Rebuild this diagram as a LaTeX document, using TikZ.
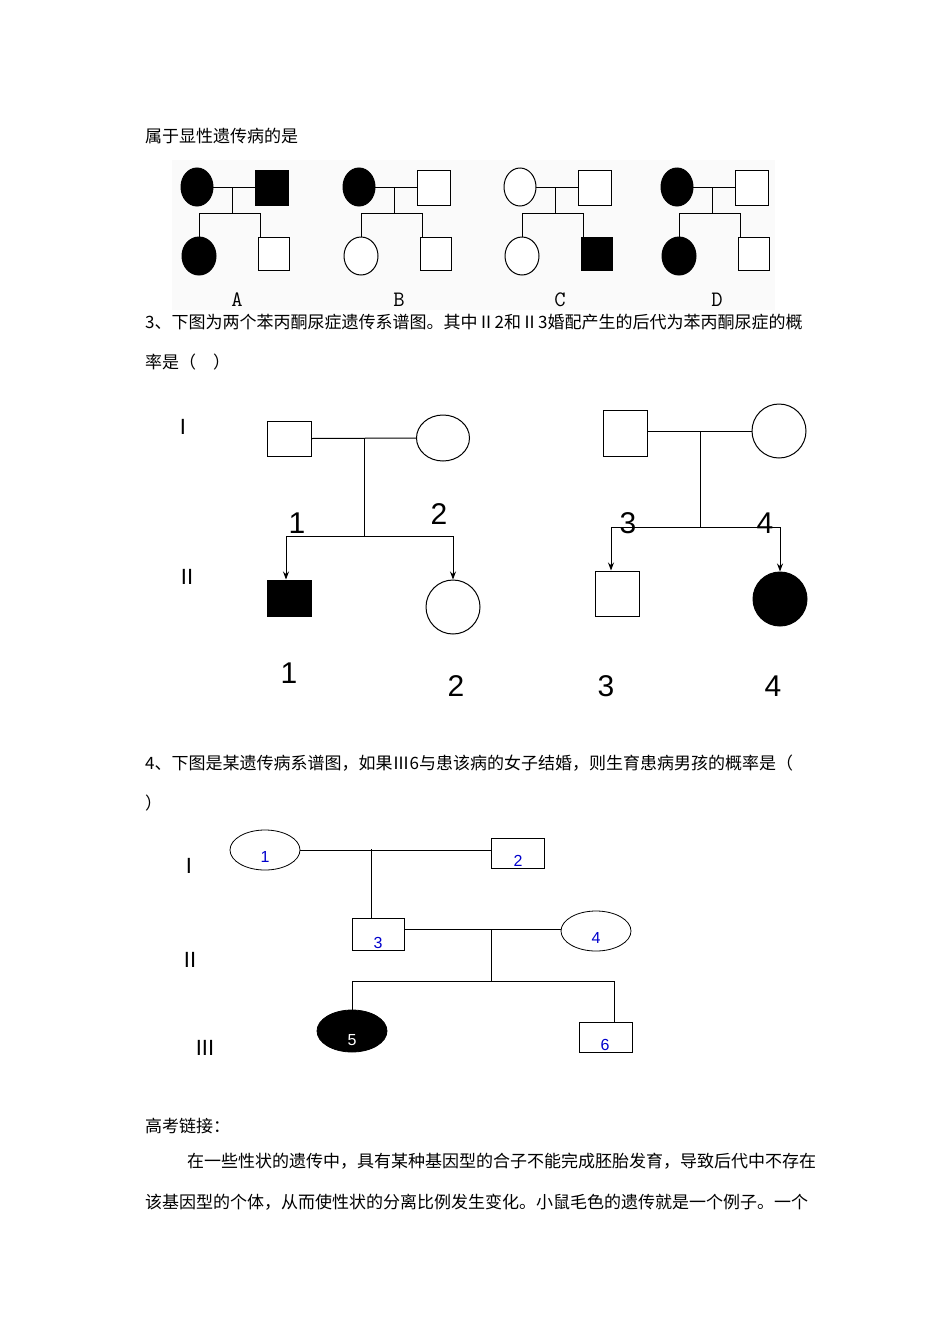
\documentclass[tikz,border=0pt]{standalone}
\usepackage{fontspec}
\setmainfont{Liberation Sans}
\newfontfamily\cjk{Noto Sans CJK SC}
\usetikzlibrary{arrows.meta,shapes.geometric}
\begin{document}
\begin{tikzpicture}[x=1pt,y=-1pt,
 ln/.style={draw=black,line width=1pt},
 sq/.style={draw=black,line width=1pt,rectangle},
 txt/.style={anchor=base west,inner sep=0pt,font=\cjk\fontsize{17}{17}\selectfont},
 bignum/.style={font=\fontsize{30}{30}\selectfont,inner sep=0pt},
 rom/.style={font=\fontsize{22}{22}\selectfont,inner sep=0pt},
 bl/.style={text=blue!80!black,font=\fontsize{16}{16}\selectfont,inner sep=0pt},
 arr/.style={ln,-{Stealth[length=8pt,width=6pt]}}]
\useasboundingbox (0,0) rectangle (950,1344);
\fill[white] (0,0) rectangle (950,1344);
% text
\node[txt] (t1) at (145,142) {属于显性遗传病的是};
\node[txt] (t2) at (145,328) {3、下图为两个苯丙酮尿症遗传系谱图。其中Ⅱ2和Ⅱ3婚配产生的后代为苯丙酮尿症的概};
\node[txt] (t3) at (145,368) {率是（　）};
\node[txt] (t4) at (145,769) {4、下图是某遗传病系谱图，如果Ⅲ6与患该病的女子结婚，则生育患病男孩的概率是（};
\node[txt] (t5) at (145,809) {）};
\node[txt] (t6) at (145,1132) {高考链接：};
\node[txt] (t7) at (187,1167) {在一些性状的遗传中，具有某种基因型的合子不能完成胚胎发育，导致后代中不存在};
\node[txt] (t8) at (145,1208) {该基因型的个体，从而使性状的分离比例发生变化。小鼠毛色的遗传就是一个例子。一个};
% figure 1
\fill[gray!4] (172,160) rectangle (775,310);
\foreach \dx/\lab/\fm/\ff/\cf/\cm in {0/A/black/black/black/white, 162/B/white/black/white/white, 323/C/white/white/white/black, 480/D/white/black/black/white}{
 \begin{scope}[xshift=\dx]
 \draw[ln] (213,187) -- (255,187);
 \draw[ln] (232,187) -- (232,213);
 \draw[ln] (199,213) -- (260,213);
 \draw[ln] (199,213) -- (199,237);
 \draw[ln] (260,213) -- (260,237);
 \filldraw[draw=black,fill=\ff,line width=1pt] (197,187) ellipse (16 and 19);
 \filldraw[draw=black,fill=\fm,line width=1pt] (255,170) rectangle (288,205);
 \filldraw[draw=black,fill=\cf,line width=1pt] (199,256) ellipse (17 and 19);
 \filldraw[draw=black,fill=\cm,line width=1pt] (258,237) rectangle (289,270);
 \node[font=\fontsize{22}{22}\selectfont\ttfamily,inner sep=0pt] at (237,300) {\lab};
 \end{scope}}
% figure 2
\node[rom] (r1) at (183,427) {I};
\node[rom] (r2) at (187,577) {II};
\node[sq,minimum width=44pt,minimum height=35pt,inner sep=0pt] (p1) at (289,438.5) {};
\node[draw,ellipse,line width=1pt,minimum width=53pt,minimum height=46pt,inner sep=0pt] (p2) at (443,438) {};
\draw[ln] (p1.east) -- (p2.west);
\coordinate (m1) at (364,438);
\coordinate (s1) at (364,536);
\draw[ln] (m1) -- (s1);
\coordinate (s1l) at (286,536);
\coordinate (s1r) at (453,536);
\draw[ln] (s1l) -- (s1r);
\node[fill=black,draw,line width=1pt,minimum width=44pt,minimum height=36pt,inner sep=0pt] (c1) at (289,598) {};
\node[draw,circle,line width=1pt,minimum size=54pt,inner sep=0pt] (c2) at (453,607) {};
\draw[arr] (s1l) -- (s1l |- c1.north);
\draw[arr] (s1r) -- (c2.north);
\node[sq,minimum width=44pt,minimum height=46pt,inner sep=0pt] (p3) at (625,433) {};
\node[draw,circle,line width=1pt,minimum size=54pt,inner sep=0pt] (p4) at (779,431) {};
\draw[ln] (p3.east |- p4.west) -- (p4.west);
\coordinate (m2) at (700,431);
\coordinate (s2) at (700,527);
\draw[ln] (m2) -- (s2);
\coordinate (s2l) at (611,527);
\coordinate (s2r) at (780,527);
\draw[ln] (s2l) -- (s2r);
\node[sq,minimum width=44pt,minimum height=45pt,inner sep=0pt] (c3) at (617,593.5) {};
\node[fill=black,draw,circle,line width=1pt,minimum size=54pt,inner sep=0pt] (c4) at (780,599) {};
\draw[arr] (s2l) -- (s2l |- c3.north);
\draw[arr] (s2r) -- (c4.north);
\node[bignum] at (297,523) {1};
\node[bignum] at (439,514) {2};
\node[bignum] at (628,523) {3};
\node[bignum] at (765,523) {4};
\node[bignum] at (289,673) {1};
\node[bignum] at (456,686) {2};
\node[bignum] at (606,686) {3};
\node[bignum] at (773,686) {4};
% figure 3
\node[rom] (q1) at (189,866) {I};
\node[rom] (q2) at (190,960) {II};
\node[rom] (q3) at (205,1048) {III};
\node[draw,ellipse,line width=0.8pt,minimum width=70pt,minimum height=40pt,inner sep=0pt] (g1) at (265,850) {};
\node[bl] at (265,857) {1};
\node[draw,line width=0.8pt,minimum width=53pt,minimum height=30pt,inner sep=0pt] (g2) at (517.5,853) {};
\node[bl] at (518,861) {2};
\draw[ln,line width=0.8pt] (g1.east) -- (g2.west |- g1.east);
\coordinate (n1) at (371,849);
\draw[ln,line width=0.8pt] (n1) -- (371,918);
\node[draw,line width=0.8pt,minimum width=52pt,minimum height=32pt,inner sep=0pt] (g3) at (378,934) {};
\node[bl] at (378,943) {3};
\node[draw,ellipse,line width=0.8pt,minimum width=70pt,minimum height=40pt,inner sep=0pt] (g4) at (596,931) {};
\node[bl] at (596,938) {4};
\coordinate (h3) at (404,929);
\draw[ln,line width=0.8pt] (h3) -- (g4.west |- h3);
\coordinate (n2) at (491,929);
\coordinate (n2b) at (491,981);
\draw[ln,line width=0.8pt] (n2) -- (n2b);
\draw[ln,line width=0.8pt] (352,981) -- (614,981);
\node[fill=black,draw,ellipse,line width=0.8pt,minimum width=70pt,minimum height=42pt,inner sep=0pt] (g5) at (352,1031) {};
\node[bl,text=white] at (352,1040) {5};
\node[draw,line width=0.8pt,minimum width=53pt,minimum height=30pt,inner sep=0pt] (g6) at (605.5,1037) {};
\node[bl] at (605,1045) {6};
\draw[ln,line width=0.8pt] (352,981) -- (g5.north);
\draw[ln,line width=0.8pt] (614,981) -- (614,1022);
\end{tikzpicture}
\end{document}
